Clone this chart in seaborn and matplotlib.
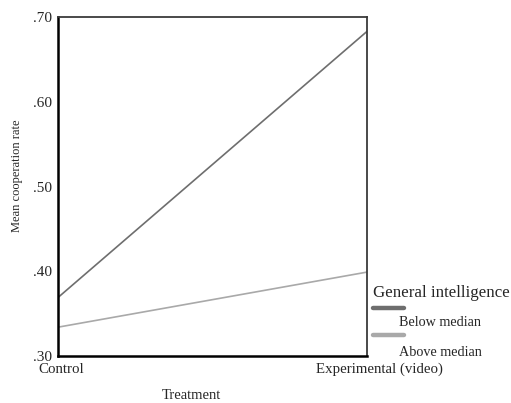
import matplotlib
matplotlib.use("Agg")
import matplotlib.pyplot as plt
import matplotlib.transforms as mtransforms
from matplotlib.lines import Line2D
import seaborn as sns
import pandas as pd

# Mean cooperation rate by treatment and intelligence group
treatments = ["Control", "Experimental (video)"]
groups = ["Below median", "Above median"]
below_median = [0.369, 0.683]
above_median = [0.334, 0.399]
line_colors = ["#6e6e6e", "#a9a9a9"]

df = pd.DataFrame({
    "Treatment": treatments * 2,
    "rate": below_median + above_median,
    "group": [groups[0]] * 2 + [groups[1]] * 2,
})

sns.set_style("white")
plt.rcParams["font.family"] = ["Liberation Serif", "DejaVu Serif"]

fig = plt.figure(figsize=(5.11, 4.03), dpi=100)
ax = fig.add_axes([58 / 511, 47 / 403, 309 / 511, 339 / 403])

sns.lineplot(data=df, x="Treatment", y="rate", hue="group",
             palette=dict(zip(groups, line_colors)), linewidth=1.2,
             legend=False, ax=ax)

ax.set_xlim(0, 1)
ax.set_ylim(0.30, 0.70)
ax.set_yticks([0.30, 0.40, 0.50, 0.60, 0.70])
ax.set_yticklabels([".30", ".40", ".50", ".60", ".70"], fontsize=11)
ax.set_xticks([0, 1])
ax.set_xticklabels(treatments, fontsize=10.7)

ax.tick_params(axis="y", direction="out", length=3, width=2.5, pad=1, color="black")
ax.tick_params(axis="x", direction="out", length=2, width=2.5, pad=3, color="black")

# nudge category labels slightly to the right of their ticks
for lbl, dx in zip(ax.get_xticklabels(), [3, 12]):
    lbl.set_transform(lbl.get_transform() +
                      mtransforms.ScaledTranslation(dx / 100, 0, fig.dpi_scale_trans))

for side in ["left", "bottom"]:
    ax.spines[side].set_color("black")
    ax.spines[side].set_linewidth(1.8)
for side in ["top", "right"]:
    ax.spines[side].set_color("#3a3a3a")
    ax.spines[side].set_linewidth(1.3)
    ax.spines[side].set_visible(True)

ax.set_xlabel("Treatment", fontsize=10.5)
ax.xaxis.set_label_coords((191 - 58) / 309, (356 - 399) / 339)
ax.xaxis.label.set_va("baseline")
ax.set_ylabel("Mean cooperation rate", fontsize=9)
ax.yaxis.set_label_coords((17 - 58) / 309, (356 - 176) / 339)
ax.yaxis.label.set_va("center")

# Legend block to the right of the plot
fig.text(373 / 511, 1 - 293 / 403, "General intelligence", fontsize=12.2,
         va="center", ha="left")
for y_handle, y_label, name, col in [(308, 323, groups[0], line_colors[0]),
                                     (335, 352, groups[1], line_colors[1])]:
    fig.add_artist(Line2D([373 / 511, 404 / 511],
                          [1 - y_handle / 403, 1 - y_handle / 403],
                          color=col, linewidth=3.2, solid_capstyle="round",
                          transform=fig.transFigure))
    fig.text(399 / 511, 1 - y_label / 403, name, fontsize=10.2,
             va="center", ha="left")

fig.savefig("out.png", dpi=100)
